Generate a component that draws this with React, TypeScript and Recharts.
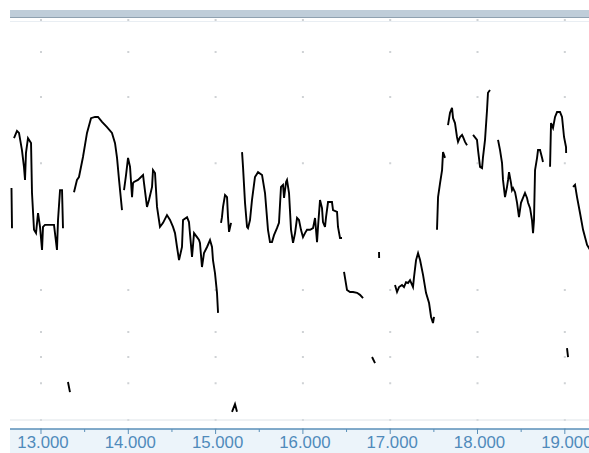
import React from 'react'
import { LineChart, Line, XAxis, YAxis, CartesianGrid, ReferenceLine } from 'recharts'

// x in axis units (13.000 ... 19.000), y on a 0-100 scale
const segA: [number, number][] = [[12.662, 58.9], [12.668, 49.1]]
const segB: [number, number][] = [
  [12.691, 71.1], [12.725, 72.9], [12.748, 72.4], [12.782, 68.2], [12.805, 64.1], [12.817, 60.9],
  [12.828, 67.5], [12.851, 71.1], [12.886, 69.9], [12.897, 57.7], [12.92, 48.7], [12.943, 47.9],
  [12.966, 52.8], [12.989, 49.4], [13.012, 43.8], [13.023, 49.4], [13.046, 49.9], [13.126, 49.9],
  [13.149, 49.9], [13.183, 43.8], [13.195, 51.1], [13.218, 58.4], [13.241, 58.4], [13.252, 49.1],
]
const segB2: [number, number][] = [[13.309, 11.5], [13.332, 9.0]]
const segC: [number, number][] = [
  [13.378, 57.9], [13.412, 60.9], [13.435, 61.6], [13.481, 66.5], [13.527, 72.4], [13.573, 76.0],
  [13.619, 76.3], [13.653, 76.3], [13.699, 75.1], [13.756, 73.8], [13.813, 72.4], [13.848, 69.9],
  [13.871, 66.3], [13.894, 60.9], [13.928, 53.5],
]
const segD: [number, number][] = [
  [13.951, 58.4], [13.974, 62.1], [13.997, 66.3], [14.02, 64.1], [14.043, 56.7], [14.054, 60.1],
  [14.065, 60.4], [14.111, 60.9], [14.169, 62.1], [14.18, 60.1], [14.214, 54.3], [14.237, 56.0],
  [14.272, 59.2], [14.283, 63.3], [14.306, 62.6], [14.329, 54.3], [14.363, 49.4], [14.398, 50.4],
  [14.443, 52.3], [14.478, 51.1], [14.512, 49.4], [14.535, 47.9], [14.558, 44.5], [14.581, 41.3],
  [14.615, 44.5], [14.627, 51.1], [14.673, 51.8], [14.695, 50.6], [14.73, 42.1], [14.753, 47.9],
  [14.787, 46.9], [14.81, 46.2], [14.821, 45.5], [14.844, 39.6], [14.867, 43.0], [14.902, 44.5],
  [14.936, 46.2], [14.959, 44.5], [14.97, 41.3], [14.993, 38.1], [15.016, 33.3], [15.028, 28.4],
]
const segE: [number, number][] = [
  [15.062, 50.4], [15.073, 51.8], [15.085, 54.3], [15.108, 57.2], [15.131, 56.7], [15.142, 51.8],
  [15.154, 48.2], [15.177, 50.4],
]
const segE2: [number, number][] = [[15.188, 4.2], [15.222, 6.1], [15.245, 4.2]]
const segF: [number, number][] = [
  [15.303, 67.7], [15.314, 64.1], [15.337, 55.3], [15.36, 49.4], [15.371, 49.1], [15.394, 51.1],
  [15.417, 56.0], [15.451, 61.6], [15.486, 62.8], [15.532, 62.1], [15.566, 57.7], [15.6, 48.7],
  [15.623, 45.7], [15.646, 45.7], [15.669, 47.4], [15.703, 49.1], [15.726, 50.4], [15.749, 59.2],
  [15.772, 59.7], [15.784, 56.5], [15.807, 60.4], [15.818, 60.9], [15.841, 57.7], [15.864, 48.7],
  [15.887, 45.5], [15.91, 47.9], [15.933, 51.6], [15.955, 51.1], [15.978, 48.7], [16.001, 46.9],
  [16.024, 47.9], [16.047, 48.7], [16.082, 48.7], [16.116, 49.1], [16.139, 51.6], [16.162, 45.7],
  [16.173, 49.4], [16.196, 56.0], [16.219, 54.0], [16.23, 50.6], [16.253, 49.4], [16.265, 51.8],
  [16.288, 55.5], [16.333, 55.5], [16.345, 53.5], [16.391, 53.1], [16.402, 49.4], [16.425, 46.7],
  [16.448, 46.7],
]
const segG: [number, number][] = [
  [16.471, 38.4], [16.505, 34.0], [16.54, 33.5], [16.574, 33.5], [16.62, 33.3], [16.654, 32.8],
  [16.689, 32.0],
]
const segG2: [number, number][] = [[16.792, 17.6], [16.826, 16.1]]
const segG3: [number, number][] = [[16.872, 43.3], [16.873, 41.8]]
const segH: [number, number][] = [
  [17.055, 35.2], [17.078, 33.5], [17.101, 34.7], [17.135, 35.2], [17.158, 34.7], [17.181, 35.9],
  [17.204, 35.7], [17.227, 36.4], [17.261, 34.7], [17.273, 37.2], [17.296, 41.3], [17.319, 43.0],
  [17.342, 41.3], [17.376, 37.7], [17.41, 33.3], [17.445, 30.8], [17.468, 27.4], [17.49, 25.9],
  [17.502, 27.4],
]
const segI: [number, number][] = [
  [17.536, 48.7], [17.548, 56.7], [17.571, 60.1], [17.594, 63.3], [17.605, 67.7], [17.628, 66.3],
]
const segJ: [number, number][] = [
  [17.662, 74.3], [17.685, 77.3], [17.708, 78.5], [17.72, 76.0], [17.742, 74.8], [17.765, 71.4],
  [17.777, 70.2], [17.8, 71.4], [17.823, 71.9], [17.834, 71.4], [17.857, 70.2], [17.88, 69.4],
]
const segK: [number, number][] = [
  [17.949, 71.9], [17.994, 70.7], [18.006, 68.2], [18.029, 64.1], [18.052, 63.8], [18.063, 66.5],
  [18.086, 70.7], [18.109, 78.0], [18.12, 82.2], [18.143, 82.9],
]
const segL: [number, number][] = [
  [18.235, 70.7], [18.258, 68.2], [18.281, 65.0], [18.292, 60.9], [18.315, 56.7], [18.338, 59.2],
  [18.35, 60.9], [18.361, 62.8], [18.384, 60.1], [18.395, 58.4], [18.407, 58.9], [18.43, 57.9],
  [18.441, 56.7], [18.453, 55.3], [18.475, 51.8], [18.498, 55.3], [18.521, 56.5], [18.544, 57.7],
  [18.567, 56.5], [18.579, 55.3], [18.602, 54.0], [18.624, 51.1], [18.636, 47.9], [18.647, 51.1],
  [18.659, 63.3], [18.682, 66.3], [18.693, 68.2], [18.716, 68.2], [18.739, 66.3], [18.75, 65.3],
]
const segM: [number, number][] = [
  [18.831, 64.1], [18.842, 74.8], [18.865, 73.6], [18.888, 76.3], [18.911, 77.5], [18.945, 77.5],
  [18.968, 76.3], [18.991, 71.4], [19.014, 68.9], [19.015, 67.5],
]
const segM2: [number, number][] = [[19.025, 19.8], [19.037, 17.6]]
const segN: [number, number][] = [
  [19.094, 59.2], [19.117, 59.7], [19.14, 56.7], [19.174, 52.8], [19.209, 48.7], [19.255, 45.0],
  [19.289, 43.8],
]

const segments = [segA, segB, segB2, segC, segD, segE, segE2, segF, segG, segG2, segG3, segH, segI, segJ, segK, segL, segM, segM2, segN]

const xDomain: [number, number] = [12.645, 19.277]
const xTicks = [13, 13.5, 14, 14.5, 15, 15.5, 16, 16.5, 17, 17.5, 18, 18.5, 19]
const gridRows = [92.2, 81.2, 65.0, 38.1, 34.0, 29.3, 23.7, 17.6, 11.2, 2.2]

const data: { t: number; v: number | null }[] = []
segments.forEach((seg, i) => {
  if (i > 0) data.push({ t: seg[0][0], v: null })
  seg.forEach(([t, v]) => data.push({ t, v }))
})

const AxisTick = ({ x, y, payload }: any) => {
  const major = Number.isInteger(payload.value)
  return (
    <g>
      <line x1={x} x2={x} y1={y} y2={y + (major ? 5 : 3)} stroke="#5a8fb8" strokeWidth={1} />
      {major && (
        <text x={x + 2} y={y + 19} textAnchor="middle" fill="#4f8aba" fontSize={16.8} fontFamily="'Liberation Sans', Arial, sans-serif">
          {payload.value.toFixed(3)}
        </text>
      )}
    </g>
  )
}

// dotted grid: one dot per whole-number column on every row
const DotRow = (props: any) => {
  const { x1, x2, y1, y2 } = props
  const period = (x2 - x1) / (xDomain[1] - xDomain[0])
  const first = (Math.ceil(xDomain[0]) - xDomain[0]) * period
  return (
    <line
      key={props.key ?? `row-${y1}`}
      x1={x1}
      x2={x2}
      y1={y1}
      y2={y2}
      stroke="#cfd2d5"
      strokeWidth={2}
      strokeDasharray={`2 ${period - 2}`}
      strokeDashoffset={-(first - 1)}
    />
  )
}

export default function App() {
  return (
    <div style={{ position: 'absolute', left: 0, top: 0, width: 589, height: 453, background: '#fff', overflow: 'hidden' }}>
      <div style={{ position: 'absolute', left: 10, top: 10, width: 579, height: 7, background: '#bfcdd9', borderBottom: '1px solid #8fa1b0' }} />
      <div style={{ position: 'absolute', left: 10, top: 21, width: 579, height: 1, background: '#e9eef3' }} />
      <div style={{ position: 'absolute', left: 10, top: 429, width: 579, height: 24, background: '#ecf4fa' }} />
      <div style={{ position: 'absolute', left: 0, top: 0 }}>
        <LineChart width={589} height={453} data={data} margin={{ top: 20, right: 0, left: 10, bottom: 0 }}>
          <CartesianGrid vertical={false} horizontal={DotRow} />
          <ReferenceLine y={2.2} stroke="#dfe4e8" strokeWidth={1} />
          <XAxis
            type="number"
            dataKey="t"
            domain={xDomain}
            allowDataOverflow
            ticks={xTicks}
            interval={0}
            height={24}
            tickSize={0}
            tickMargin={0}
            tickLine={false}
            axisLine={{ stroke: '#5a8fb8', strokeWidth: 1.5 }}
            tick={<AxisTick />}
          />
          <YAxis hide type="number" domain={[0, 100]} ticks={gridRows} allowDataOverflow />
          <Line
            type="linear"
            dataKey="v"
            stroke="#000"
            strokeWidth={1.9}
            dot={false}
            connectNulls={false}
            isAnimationActive={false}
          />
        </LineChart>
      </div>
    </div>
  )
}
